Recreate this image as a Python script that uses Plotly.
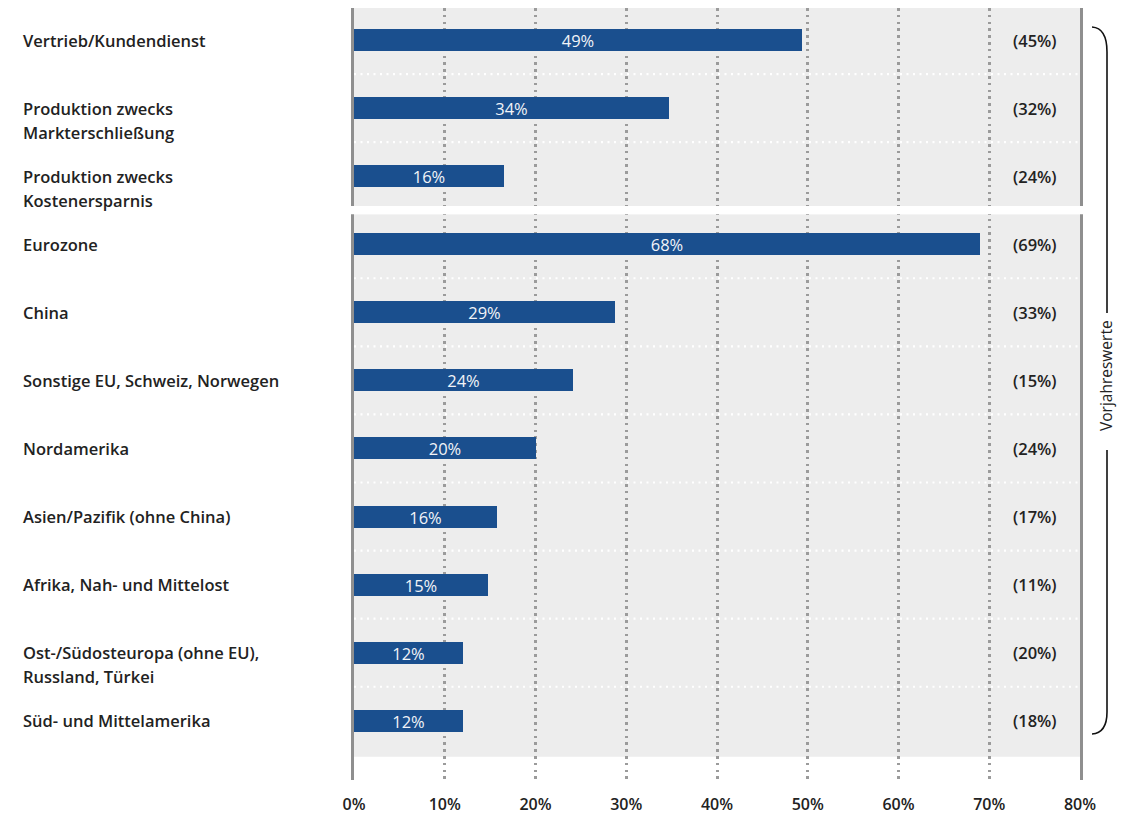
import plotly.graph_objects as go

# ---------------- data ----------------
categories = [
    "Vertrieb/Kundendienst",
    "Produktion zwecks\nMarkterschließung",
    "Produktion zwecks\nKostenersparnis",
    "Eurozone",
    "China",
    "Sonstige EU, Schweiz, Norwegen",
    "Nordamerika",
    "Asien/Pazifik (ohne China)",
    "Afrika, Nah- und Mittelost",
    "Ost-/Südosteuropa (ohne EU),\nRussland, Türkei",
    "Süd- und Mittelamerika",
]
values = [49.4, 34.7, 16.5, 69.0, 28.8, 24.1, 20.1, 15.8, 14.8, 12.0, 12.0]
value_labels = ["49%", "34%", "16%", "68%", "29%", "24%", "20%", "16%", "15%", "12%", "12%"]
prev_labels = ["(45%)", "(32%)", "(24%)", "(69%)", "(33%)", "(15%)", "(24%)", "(17%)", "(11%)", "(20%)", "(18%)"]
x_ticks = [0, 10, 20, 30, 40, 50, 60, 70, 80]
x_ticktext = ["0%", "10%", "20%", "30%", "40%", "50%", "60%", "70%", "80%"]
side_label = "Vorjahreswerte"
group_break_after = 2  # index of last row of first group

# ---------------- layout constants ----------------
W, H = 1137, 816
ML, MR, MT, MB = 354, 57, 8, 36
PW, PH = W - ML - MR, H - MT - MB
Y_TOP, Y_BOT = -0.47, 10.87
BG_BOT = 10.53
BAR_COLOR = "#1a4f8e"
BG_COLOR = "#ededed"
GRID_COLOR = "#9b9b9b"
TEXT_COLOR = "#222222"
FONT = "Open Sans"
FS = 16.5

rows = list(range(len(categories)))

fig = go.Figure()
fig.add_trace(go.Bar(
    x=values, y=rows, orientation="h",
    marker=dict(color=BAR_COLOR, line=dict(width=0)),
    width=0.323,
    text=value_labels, textposition="inside", insidetextanchor="middle",
    textangle=0,
    textfont=dict(family=FONT, size=FS, color="#f2f4f8", weight=500),
    hoverinfo="skip",
))

shapes = []
# gray backgrounds
gap = 0.06
brk = group_break_after + 0.5
shapes.append(dict(type="rect", xref="x", yref="y", x0=0, x1=80, y0=Y_TOP, y1=brk - gap,
                   fillcolor=BG_COLOR, line=dict(width=0), layer="below"))
shapes.append(dict(type="rect", xref="x", yref="y", x0=0, x1=80, y0=brk + gap, y1=BG_BOT,
                   fillcolor=BG_COLOR, line=dict(width=0), layer="below"))
# white dotted row separators
for i in rows[:-1]:
    if i == group_break_after:
        continue
    shapes.append(dict(type="line", xref="x", yref="y", x0=0, x1=80, y0=i + 0.5, y1=i + 0.5,
                       line=dict(color="white", width=2.2, dash="2px,4.5px"), layer="below"))
# white gap strip between groups (covers axis lines and grid)
shapes.append(dict(type="rect", xref="paper", yref="y", x0=-0.006, x1=1.006, y0=brk - gap, y1=brk + gap,
                   fillcolor="white", line=dict(width=0), layer="above"))


def px(xp):
    return (xp - ML) / PW


def py(yp):
    return (MT + PH - yp) / PH


# brace on the right
bx0, bx1 = 1092, 1107
top_path = (f"M {px(bx0)},{py(27)} Q {px(bx1)},{py(28)} {px(bx1)},{py(52)} L {px(bx1)},{py(313)}")
bot_path = (f"M {px(bx1)},{py(450)} L {px(bx1)},{py(712)} Q {px(bx1)},{py(733)} {px(bx0)},{py(734)}")
for p in (top_path, bot_path):
    shapes.append(dict(type="path", xref="paper", yref="paper", path=p,
                       line=dict(color="#111111", width=1.6)))

annotations = []
# category labels (one annotation per line)
LINE_H = 24
for i, cat in enumerate(categories):
    for k, line in enumerate(cat.split("\n")):
        annotations.append(dict(
            xref="paper", yref="y", x=px(21), y=i, xanchor="left", yanchor="middle",
            yshift=-LINE_H * k, text=line, showarrow=False,
            font=dict(family=FONT, size=FS, color=TEXT_COLOR, weight=600),
        ))
# previous-year values
for i, t in enumerate(prev_labels):
    annotations.append(dict(
        xref="x", yref="y", x=75.0, y=i, xanchor="center", yanchor="middle",
        text=t, showarrow=False,
        font=dict(family=FONT, size=FS, color=TEXT_COLOR, weight=600),
    ))
# side label
annotations.append(dict(
    xref="paper", yref="paper", x=px(1106), y=py(376), xanchor="center", yanchor="middle",
    text=side_label, textangle=-90, showarrow=False,
    font=dict(family=FONT, size=15.5, color=TEXT_COLOR),
))

fig.update_layout(
    width=W, height=H, autosize=False,
    margin=dict(l=ML, r=MR, t=MT, b=MB, pad=0, autoexpand=False),
    paper_bgcolor="white", plot_bgcolor="white",
    showlegend=False, bargap=0,
    shapes=shapes, annotations=annotations,
    uniformtext=dict(minsize=FS, mode="show"),
    xaxis=dict(
        range=[0, 80], tickvals=x_ticks, ticktext=x_ticktext,
        showgrid=True, gridcolor=GRID_COLOR, gridwidth=2.5, griddash="2.5px,4.3px",
        zeroline=False, showline=False, automargin=False,
        ticks="outside", ticklen=10, tickcolor="rgba(0,0,0,0)",
        tickfont=dict(family=FONT, size=16, color=TEXT_COLOR, weight=600),
        fixedrange=True,
    ),
    yaxis=dict(
        range=[Y_BOT, Y_TOP], showticklabels=False, showgrid=False, zeroline=False,
        showline=True, mirror=True, linecolor="#8f8f8f", linewidth=3,
        ticks="", fixedrange=True, automargin=False,
    ),
)

fig.write_html("out.html")
